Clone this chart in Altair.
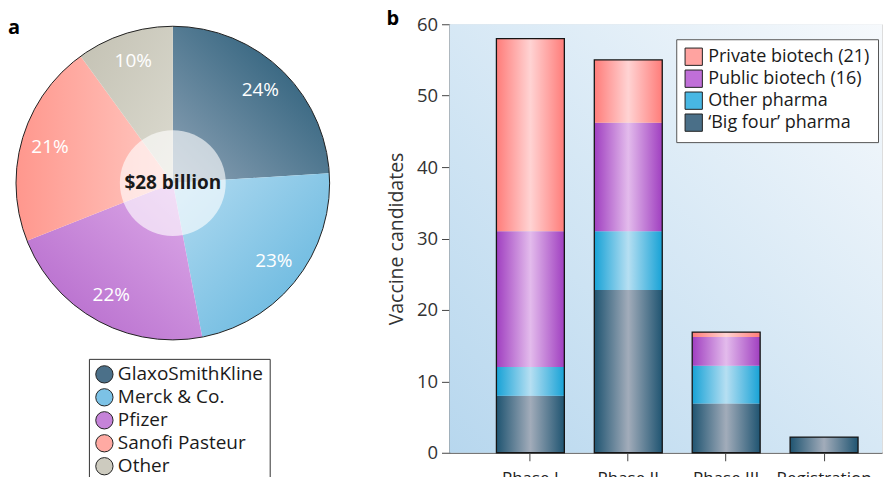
import math
import altair as alt
import pandas as pd

# ---------------- data ----------------
companies = ["GlaxoSmithKline", "Merck & Co.", "Pfizer", "Sanofi Pasteur", "Other"]
shares = [24, 23, 22, 21, 10]
pct_labels = ["24%", "23%", "22%", "21%", "10%"]
center_label = ["$28 billion"]

phases = ["Phase I", "Phase II", "Phase III", "Registration"]
groups = ["‘Big four’ pharma", "Other pharma", "Public biotech (16)", "Private biotech (21)"]
big_four = [8.0, 22.8, 6.9, 2.2]
other_pharma = [4.0, 8.2, 5.3, 0.0]
public_biotech = [19.0, 15.2, 4.0, 0.0]
private_biotech = [27.0, 8.8, 0.7, 0.0]
legend_order = ["Private biotech (21)", "Public biotech (16)", "Other pharma", "‘Big four’ pharma"]

# ---------------- styles ----------------
FONT = "Open Sans"
company_solid = ["#4b7089", "#7cc2e6", "#c583d8", "#ffaaa3", "#cdcbbf"]
# (light near centre, dark at rim) and gradient direction per slice
slice_grad = [
    ("#8ea3b6", "#1b5370", (0, 1, 1, 0)),
    ("#b4dcf1", "#5cb2dc", (0, 0, 1, 1)),
    ("#dfaeea", "#b163c9", (1, 0, 0, 1)),
    ("#ffc9c2", "#ff978d", (1, 0.5, 0, 0.5)),
    ("#dcdbd0", "#c3c1b3", (1, 1, 0, 0)),
]
group_grad = {
    "‘Big four’ pharma": ("#1f5471", "#a2acba"),
    "Other pharma": ("#17a2d6", "#b6dff2"),
    "Public biotech (16)": ("#a03fc0", "#e3bbec"),
    "Private biotech (21)": ("#ff7c79", "#ffd3d3"),
}
group_solid = {
    "Private biotech (21)": "#ffa3a0",
    "Public biotech (16)": "#c06fd8",
    "Other pharma": "#48b7e3",
    "‘Big four’ pharma": "#4a6f88",
}

def lin(stops, x1=0, y1=0, x2=1, y2=0):
    return alt.LinearGradient(
        gradient="linear",
        stops=[alt.GradientStop(offset=o, color=c) for o, c in stops],
        x1=x1, y1=y1, x2=x2, y2=y2,
    )

# ---------------- panel a: pie ----------------
pie_df = pd.DataFrame({"company": companies, "share": shares,
                       "label": pct_labels, "idx": list(range(len(companies)))})
one_df = pd.DataFrame({"text": center_label})

R = 157
theta_scale = alt.Scale(domain=[0, 100], range=[0, 2 * math.pi])

pie_base = (
    alt.Chart(pie_df)
    .transform_window(cum="sum(share)", sort=[alt.SortField("idx")], frame=[None, 0])
    .transform_calculate(start="datum.cum - datum.share", mid="datum.cum - datum.share / 2")
)

pie_layers = []
for name, (light, dark, (x1, y1, x2, y2)) in zip(companies, slice_grad):
    pie_layers.append(
        pie_base.transform_filter(alt.datum.company == name)
        .mark_arc(radius=R, fill=lin([(0, light), (1, dark)], x1, y1, x2, y2))
        .encode(theta=alt.Theta("start:Q", scale=theta_scale), theta2="cum:Q")
    )

outline = alt.Chart(one_df).mark_arc(radius=R, fillOpacity=0, stroke="#222222", strokeWidth=1).encode(
    theta=alt.value(0), theta2=alt.value(2 * math.pi))
hole = alt.Chart(one_df).mark_arc(radius=53, fill="white", fillOpacity=0.62).encode(
    theta=alt.value(0), theta2=alt.value(2 * math.pi))
center_txt = alt.Chart(one_df).mark_text(font=FONT, fontSize=19, fontWeight="bold", color="#1a1a1a").encode(
    text="text:N")
pct_txt = pie_base.mark_text(radius=128, font=FONT, fontSize=19, color="white").encode(
    theta=alt.Theta("mid:Q", scale=theta_scale), text="label:N")
pie_legend = alt.Chart(pie_df).mark_circle(opacity=0, size=1).encode(
    color=alt.Color("company:N", scale=alt.Scale(domain=companies, range=company_solid),
                    legend=alt.Legend(title=None, orient="none", legendX=81, legendY=335,
                                      symbolType="circle", symbolSize=300, symbolOpacity=1,
                                      symbolStrokeColor="#222222", symbolStrokeWidth=1,
                                      labelFont=FONT, labelFontSize=19, labelColor="#1a1a1a",
                                      labelOffset=4, rowPadding=0, padding=6,
                                      strokeColor="#333333", fillColor="white", labelLimit=300)))

panel_a = alt.layer(*pie_layers, hole, outline, pct_txt, center_txt, pie_legend).properties(
    width=330, height=318,
    title=alt.TitleParams("a", anchor="start", font=FONT, fontSize=20, fontWeight="bold", offset=-14),
)

# ---------------- panel b: stacked bars ----------------
rows = []
for gi, (g, vals) in enumerate(zip(groups, [big_four, other_pharma, public_biotech, private_biotech])):
    for p, v in zip(phases, vals):
        rows.append({"phase": p, "group": g, "value": v, "order": gi})
bar_df = pd.DataFrame(rows)
bg_df = pd.DataFrame({"k": [0]})

x_enc = alt.X("phase:N", sort=phases, title=None,
              scale=alt.Scale(paddingInner=0.306, paddingOuter=0.362, align=0.662),
              axis=alt.Axis(labelAngle=0, labelFont=FONT, labelFontSize=17, labelColor="#222222",
                            tickSize=8, tickColor="#444444", domainColor="#777777", domainWidth=1.5,
                            labelPadding=10))
y_scale = alt.Scale(domain=[0, 60], nice=False)
y_axis = alt.Axis(values=[0, 10, 20, 30, 40, 50, 60], grid=False, title="Vaccine candidates",
                  labelFont=FONT, labelFontSize=18.5, labelColor="#333333", labelPadding=4,
                  tickSize=8, tickColor="#444444", domainColor="#666666", domainWidth=1.5,
                  titleFont=FONT, titleFontSize=19.5, titleFontWeight="normal", titleColor="#333333",
                  titlePadding=10)

background = alt.Chart(bg_df).mark_rect(
    fill=lin([(0, "#b7d7ee"), (1, "#f6f9fc")], 0, 1, 1, 0)
).encode(x=alt.value(0), x2=alt.value("width"), y=alt.value(0), y2=alt.value("height"))

stacked = alt.Chart(bar_df).transform_stack(
    stack="value", groupby=["phase"], as_=["y0", "y1"], sort=[alt.SortField("order")])

bar_layers = []
for g in groups:
    edge, mid = group_grad[g]
    bar_layers.append(
        stacked.transform_filter(alt.datum.group == g)
        .mark_bar(fill=lin([(0, edge), (0.5, mid), (1, edge)]))
        .encode(x=x_enc, y=alt.Y("y0:Q", scale=y_scale, axis=y_axis), y2="y1:Q")
    )

totals = alt.Chart(bar_df).transform_aggregate(total="sum(value)", groupby=["phase"]).mark_bar(
    fillOpacity=0, stroke="#151515", strokeWidth=1.3).encode(x=x_enc, y=alt.Y("total:Q", scale=y_scale))

bar_legend = stacked.mark_bar(opacity=0).encode(
    x=x_enc, y=alt.Y("y0:Q", scale=y_scale), y2="y1:Q",
    color=alt.Color("group:N", scale=alt.Scale(domain=legend_order,
                                               range=[group_solid[g] for g in legend_order]),
                    legend=alt.Legend(title=None, orient="none", legendX=227, legendY=15,
                                      symbolType="square", symbolSize=300, symbolOpacity=1,
                                      symbolStrokeColor="#222222", symbolStrokeWidth=1,
                                      labelFont=FONT, labelFontSize=18, labelColor="#1a1a1a",
                                      labelOffset=5, rowPadding=-1, padding=8,
                                      strokeColor="#555555", fillColor="white", labelLimit=300)))

panel_b = alt.layer(background, *bar_layers, totals, bar_legend).properties(
    width=433, height=429,
    title=alt.TitleParams("b", anchor="start", font=FONT, fontSize=20, fontWeight="bold", offset=-14),
)

chart = (
    alt.hconcat(panel_a, panel_b, spacing=48)
    .resolve_scale(color="independent", theta="independent")
    .resolve_legend(color="independent")
    .properties(padding=0)
    .configure_view(stroke=None)
    .configure(font=FONT)
)

chart.save("out.html", embed_options={"renderer": "svg", "actions": False})
